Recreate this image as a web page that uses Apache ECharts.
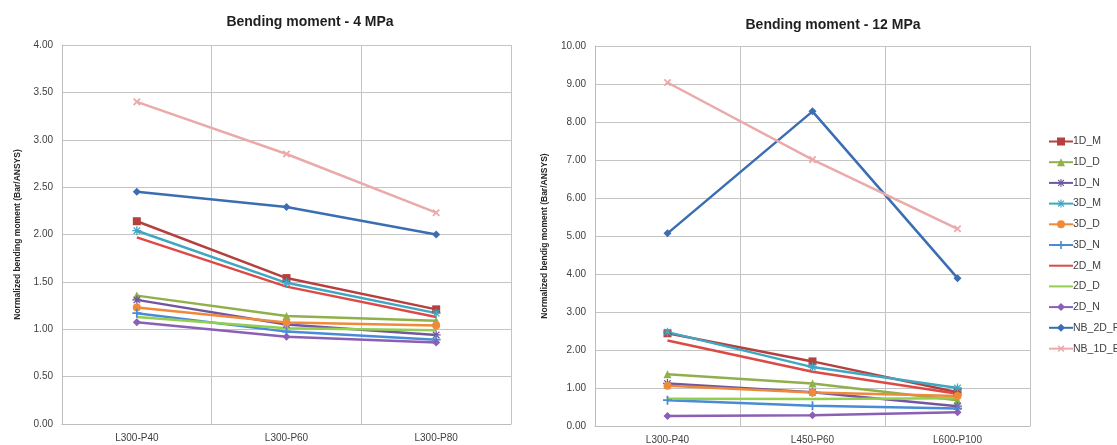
<!DOCTYPE html>
<html>
<head>
<meta charset="utf-8">
<script src="https://cdn.jsdelivr.net/npm/echarts@6/dist/echarts.min.js"></script>
<style>html,body{margin:0;padding:0;background:#fff}#c{width:1117px;height:445px}</style>
</head>
<body>
<div id="c"></div>
<script>
// ---- data ----
const seriesNames = ['1D_M','1D_D','1D_N','3D_M','3D_D','3D_N','2D_M','2D_D','2D_N','NB_2D_P','NB_1D_E'];
const categories4 = ['L300-P40','L300-P60','L300-P80'];
const categories12 = ['L300-P40','L450-P60','L600-P100'];
const yTicks4 = ['0.00','0.50','1.00','1.50','2.00','2.50','3.00','3.50','4.00'];
const yTicks12 = ['0.00','1.00','2.00','3.00','4.00','5.00','6.00','7.00','8.00','9.00','10.00'];

// Bending moment - 4 MPa
const m4_1D_M = [2.14, 1.54, 1.21];
const m4_1D_D = [1.355, 1.14, 1.09];
const m4_1D_N = [1.31, 1.05, 0.94];
const m4_3D_M = [2.04, 1.49, 1.17];
const m4_3D_D = [1.23, 1.07, 1.04];
const m4_3D_N = [1.17, 0.975, 0.89];
const m4_2D_M = [1.97, 1.45, 1.13];
const m4_2D_D = [1.13, 1.01, 0.99];
const m4_2D_N = [1.075, 0.92, 0.86];
const m4_NB_2D_P = [2.45, 2.29, 2.00];
const m4_NB_1D_E = [3.40, 2.85, 2.23];

// Bending moment - 12 MPa
const m12_1D_M = [2.44, 1.70, 0.89];
const m12_1D_D = [1.36, 1.12, 0.68];
const m12_1D_N = [1.12, 0.89, 0.52];
const m12_3D_M = [2.47, 1.55, 1.00];
const m12_3D_D = [1.06, 0.88, 0.79];
const m12_3D_N = [0.68, 0.53, 0.46];
const m12_2D_M = [2.25, 1.43, 0.85];
const m12_2D_D = [0.72, 0.71, 0.73];
const m12_2D_N = [0.26, 0.28, 0.36];
const m12_NB_2D_P = [5.07, 8.28, 3.89];
const m12_NB_1D_E = [9.04, 7.01, 5.19];

const data4 = [m4_1D_M,m4_1D_D,m4_1D_N,m4_3D_M,m4_3D_D,m4_3D_N,m4_2D_M,m4_2D_D,m4_2D_N,m4_NB_2D_P,m4_NB_1D_E];
const data12 = [m12_1D_M,m12_1D_D,m12_1D_N,m12_3D_M,m12_3D_D,m12_3D_N,m12_2D_M,m12_2D_D,m12_2D_N,m12_NB_2D_P,m12_NB_1D_E];

// ---- styles ----
const PLUS = 'path://M4,0H6V4H10V6H6V10H4V6H0V4H4Z';
const STAR = 'path://M4.3,0H5.7V3.3L8.1,0.9L9.1,1.9L6.7,4.3H10V5.7H6.7L9.1,8.1L8.1,9.1L5.7,6.7V10H4.3V6.7L1.9,9.1L0.9,8.1L3.3,5.7H0V4.3H3.3L0.9,1.9L1.9,0.9L4.3,3.3Z';
const styles = [
  {color:'#B5403D', symbol:'rect', size:8, rot:0},
  {color:'#8FB04A', symbol:'triangle', size:8, rot:0},
  {color:'#7356A0', symbol:STAR, size:9, rot:0},
  {color:'#3FA7C2', symbol:STAR, size:9, rot:0},
  {color:'#EE8A3A', symbol:'circle', size:8, rot:0},
  {color:'#4A8BD6', symbol:PLUS, size:9, rot:0},
  {color:'#DC4A45', symbol:'none', size:0, rot:0},
  {color:'#92CF50', symbol:'none', size:0, rot:0},
  {color:'#8A5FB5', symbol:'diamond', size:8, rot:0},
  {color:'#3B6DB3', symbol:'diamond', size:8, rot:0},
  {color:'#EBAAAA', symbol:PLUS, size:9, rot:45}
];

const FONT = 'Liberation Sans';
const gridLine = {show:true, lineStyle:{color:'#C4C4C4', width:1}};

function xAxis(idx, cats){
  return {type:'category', gridIndex:idx, data:cats, boundaryGap:true,
    axisLine:{show:true, lineStyle:{color:'#BDBDBD'}}, axisTick:{show:false},
    axisLabel:{color:'#404040', fontSize:10, fontFamily:FONT, margin:9},
    splitLine:gridLine};
}
function yAxis(idx, ticks, name, gap){
  const max = parseFloat(ticks[ticks.length-1]);
  const step = parseFloat(ticks[1]) - parseFloat(ticks[0]);
  return {type:'value', gridIndex:idx, min:0, max:max, interval:step,
    name:name, nameLocation:'middle', nameGap:gap, nameRotate:90,
    nameTextStyle:{fontSize:8.5, fontWeight:'bold', color:'#262626', fontFamily:FONT},
    axisLine:{show:true, lineStyle:{color:'#BDBDBD'}}, axisTick:{show:false},
    axisLabel:{color:'#404040', fontSize:10, fontFamily:FONT, margin:9,
      formatter:v=>v.toFixed(2)},
    splitLine:gridLine};
}

const series = [];
[data4, data12].forEach((set, gi)=>{
  set.forEach((vals, i)=>{
    const s = styles[i];
    series.push({type:'line', name:seriesNames[i], xAxisIndex:gi, yAxisIndex:gi, data:vals,
      symbol:s.symbol, symbolSize:s.size, symbolRotate:s.rot, showSymbol:s.symbol!=='none',
      lineStyle:{color:s.color, width:2.5}, itemStyle:{color:s.color},
      emphasis:{disabled:true}, animation:false, z: 2});
  });
});

const legendData = seriesNames.map((n,i)=> styles[i].symbol==='none'
  ? {name:n, itemStyle:{opacity:0, color:'transparent', borderWidth:0}}
  : {name:n});

const chart = echarts.init(document.getElementById('c'), null, {renderer:'canvas'});
chart.setOption({
  backgroundColor:'#ffffff',
  animation:false,
  title:[
    {text:'Bending moment - 4 MPa', left:305, top:10, textAlign:'center',
     textStyle:{fontSize:14, fontWeight:'bold', color:'#1F1F1F', fontFamily:FONT}},
    {text:'Bending moment - 12 MPa', left:828, top:13, textAlign:'center',
     textStyle:{fontSize:14, fontWeight:'bold', color:'#1F1F1F', fontFamily:FONT}}
  ],
  legend:{orient:'vertical', left:1043, top:131, itemGap:9.7, itemWidth:24, itemHeight:10,
    data:legendData, textStyle:{fontSize:10.5, color:'#404040', fontFamily:FONT, padding:[0,0,0,-5]},
    selectedMode:false},
  grid:[
    {left:62, right:606, top:45, bottom:21, containLabel:false},
    {left:595, right:87, top:46, bottom:19, containLabel:false}
  ],
  xAxis:[xAxis(0, categories4), xAxis(1, categories12)],
  yAxis:[yAxis(0, yTicks4, 'Normalized bending moment (Bar/ANSYS)', 40),
         yAxis(1, yTicks12, 'Normalized bendig moment (Bar/ANSYS)', 46)],
  series:series
});
</script>
</body>
</html>
